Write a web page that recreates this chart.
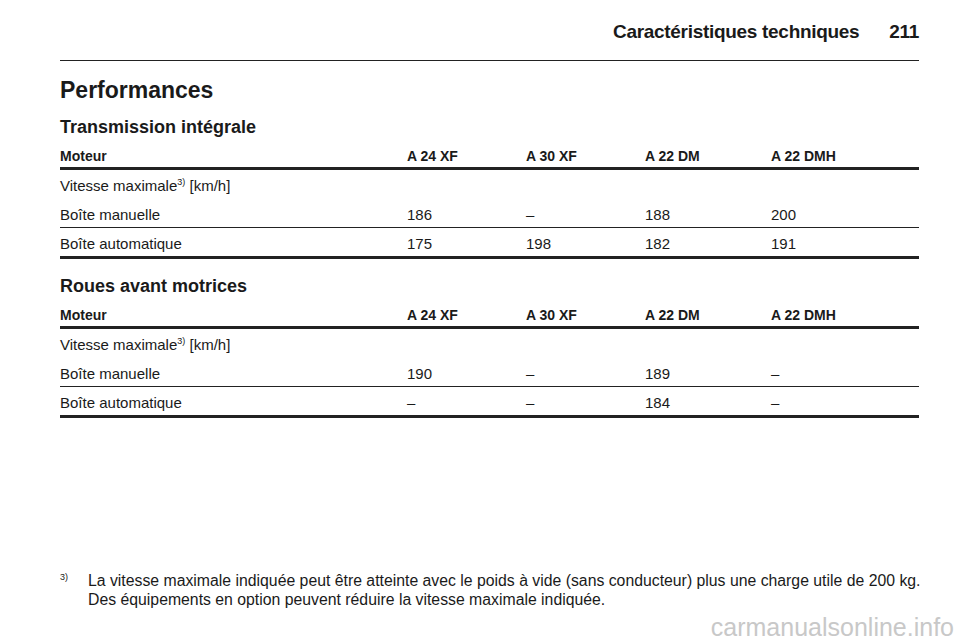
<!DOCTYPE html>
<html><head><meta charset="utf-8">
<script src="https://cdn.jsdelivr.net/npm/chart.js@4"></script>
<style>
body{margin:0;width:960px;height:642px;background:#fff;font-family:"Liberation Sans",Arial,sans-serif;color:#1a1a1a;position:relative;overflow:hidden}
.a{position:absolute;white-space:nowrap}
.b{font-weight:bold}
.l{position:absolute;left:60px;width:859px;background:#222}
sup{font-size:9px;vertical-align:6px;line-height:0}
</style></head><body>
<div id="root"></div>
<script>
const columns = ["Moteur","A 24 XF","A 30 XF","A 22 DM","A 22 DMH"];
const rowLabels = ["Boîte manuelle","Boîte automatique"];
const awdManual = ["186","–","188","200"];
const awdAuto = ["175","198","182","191"];
const fwdManual = ["190","–","189","–"];
const fwdAuto = ["–","–","184","–"];
const colX = [60,407,526,645,771];
const root=document.getElementById('root');
function t(x,y,s,cls,size){const d=document.createElement('div');d.className='a '+(cls||'');d.style.left=x+'px';d.style.top=y+'px';d.style.fontSize=(size||15)+'px';d.innerHTML=s;root.appendChild(d);return d;}
function line(y,h){const d=document.createElement('div');d.className='l';d.style.top=y+'px';d.style.height=h+'px';root.appendChild(d);}
const hdr=t(0,21,'Caractéristiques techniques&nbsp;&nbsp;&nbsp;&nbsp;&nbsp;&nbsp;211','b',19);hdr.style.left='';hdr.style.right='41px';hdr.style.letterSpacing='-0.3px';
line(60,1);
t(60,77,'Performances','b',23);
function table(title,y,m,a){
  t(60,y+1,title,'b',18);
  columns.forEach((c,i)=>t(colX[i],y+32,c,'b',14));
  line(y+51,3);
  t(60,y+61,'Vitesse maximale<sup>3)</sup> [km/h]');
  t(60,y+90,rowLabels[0]); m.forEach((v,i)=>t(colX[i+1],y+90,v));
  line(y+111,1);
  t(60,y+119,rowLabels[1]); a.forEach((v,i)=>t(colX[i+1],y+119,v));
  line(y+140,3);
}
table('Transmission intégrale',116,awdManual,awdAuto);
table('Roues avant motrices',275,fwdManual,fwdAuto);
t(60,572,'<sup>3)</sup>','',15);
t(88,572,'La vitesse maximale indiquée peut être atteinte avec le poids à vide (sans conducteur) plus une charge utile de 200 kg.','',15.8);
t(88,591,'Des équipements en option peuvent réduire la vitesse maximale indiquée.','',15.8);
const w=t(0,613,'carmanualsonline.info','',25);w.style.left='';w.style.right='6px';w.style.color='#c8c8c8';
</script>
</body></html>
